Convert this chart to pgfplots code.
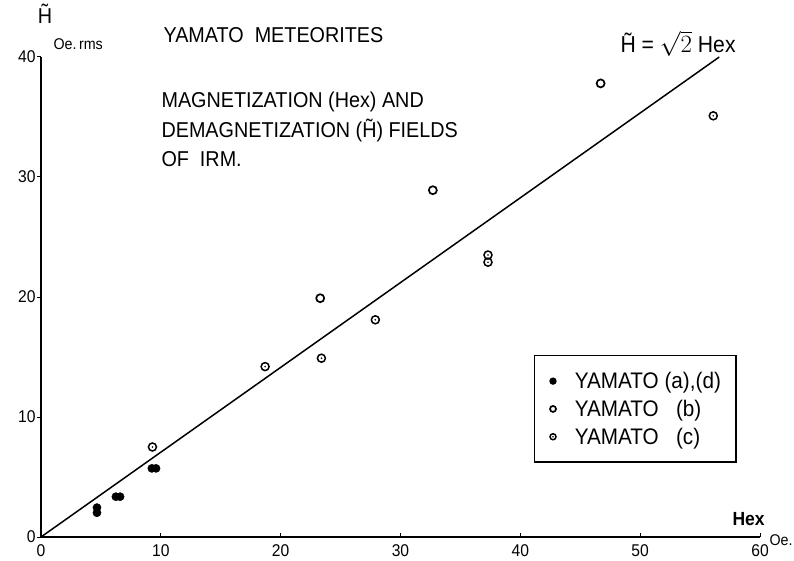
\documentclass[border=0pt]{standalone}
\usepackage{fontspec}
\setmainfont[FakeStretch=0.92]{Liberation Sans}
\usepackage{pgfplots}
\pgfplotsset{compat=1.18}

% circle with a dot in the middle, for YAMATO (c)
\pgfdeclareplotmark{odot}{%
  \pgfpathcircle{\pgfpointorigin}{\pgfplotmarksize}\pgfusepathqstroke
  \pgfpathcircle{\pgfpointorigin}{0.9pt}\pgfusepathqfill}

\newcommand{\ftxt}{\fontsize{21.5}{23}\selectfont}
\newcommand{\fsml}{\fontsize{15.5}{16}\selectfont}

\begin{document}
\begin{tikzpicture}
\begin{axis}[
    scale only axis,
    width=719pt, height=480pt,
    xmin=0, xmax=60, ymin=0, ymax=40,
    axis lines=left,
    axis line style={-, line width=1.5pt},
    xtick={0,10,...,60},
    ytick={0,10,...,40},
    tick style={black, line width=1pt},
    major tick length=4pt,
    tick align=inside,
    ytick style={xshift=-4pt},
    tick label style={font=\fontsize{17}{17}\selectfont},
    xticklabel style={yshift=-4pt},
    yticklabel style={xshift=-2pt},
    /pgf/number format/assume math mode=true,
    clip=false,
    legend cell align=left,
    legend style={at={(0.6857,0.379)}, anchor=north west,
        draw=black, line width=1.3pt,
        font=\fontsize{22.5}{23}\selectfont,
        inner xsep=14pt, inner ysep=15.5pt, row sep=8pt,
        nodes={inner sep=1pt}},
    legend image code/.code={%
        \path (-3.5pt,0pt) (20pt,0pt);
        \draw[#1, mark size=3pt] plot coordinates {(0pt,0pt)};},
]

% YAMATO (a),(d)
\addplot[only marks, mark=*, mark size=4.1pt, black] coordinates {
(4.67,2.45) (4.67,2.02)
(6.25,3.36) (6.6,3.36)
(9.25,5.72) (9.6,5.72)
};
\addlegendentry{YAMATO (a),(d)}

% YAMATO (b)
\addplot[only marks, mark=o, mark size=4pt, black, line width=1.7pt] coordinates {
(23.3,19.9) (32.7,28.9) (46.7,37.8)
};
\addlegendentry{YAMATO\ \ \ (b)}

% YAMATO (c)
\addplot[only marks, mark=odot, mark size=4pt, black, line width=1.5pt] coordinates {
(9.3,7.5) (18.7,14.2) (23.4,14.9) (27.9,18.1)
(37.3,23.5) (37.3,22.9) (56.1,35.1)
};
\addlegendentry{YAMATO\ \ \ (c)}

% reference line
\addplot[black, line width=1.5pt, no marks, forget plot] coordinates {(0,0) (56.6,40)};

\end{axis}

\node[anchor=base west, font=\ftxt] at (119pt,494pt) {YAMATO\ \ METEORITES};
\node[anchor=base west, font=\ftxt] at (117pt,429pt) {MAGNETIZATION (Hex) AND};
\node[anchor=base west, font=\ftxt] at (117pt,399pt) {DEMAGNETIZATION (\~{H}) FIELDS};
\node[anchor=base west, font=\ftxt] at (117pt,370pt) {OF\ \ IRM.};
\node[font=\ftxt] at (4pt,523pt) {\~{H}};
\node[anchor=base west, font=\fsml] at (9pt,487pt) {Oe.\,rms};
\node[anchor=base west, font=\fontsize{19}{20}\selectfont\bfseries] at (688pt,12pt) {Hex};
\node[anchor=base west, font=\fsml] at (725pt,-8pt) {Oe.};
\node[anchor=base west, font=\fontsize{23}{24}\selectfont] at (576pt,484pt) {\~{H} = $\sqrt{2}$ Hex};

\pgfresetboundingbox
\path[use as bounding box] (-41pt,-23pt) rectangle (753pt,537pt);
\end{tikzpicture}
\end{document}
